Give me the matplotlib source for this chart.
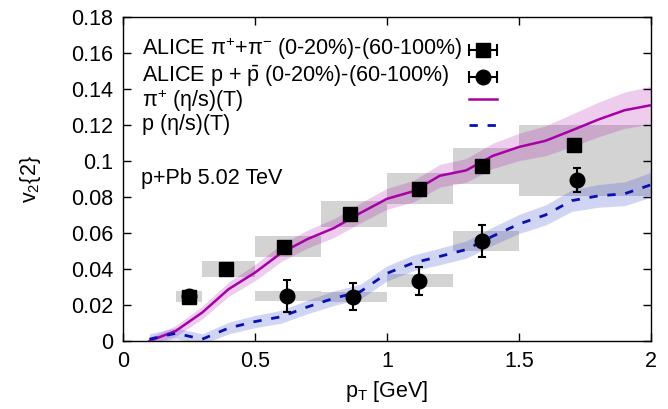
"""v2{2} of identified hadrons in p+Pb, ALICE data vs (eta/s)(T) hydro."""

import matplotlib
matplotlib.use("Agg")
import matplotlib.pyplot as plt
from matplotlib.patches import Rectangle
from matplotlib.ticker import FuncFormatter, MultipleLocator

plt.rcParams["font.family"] = ["Liberation Sans", "DejaVu Sans"]
plt.rcParams["mathtext.fontset"] = "custom"
plt.rcParams["mathtext.rm"] = "Liberation Sans"
plt.rcParams["mathtext.it"] = "Liberation Sans"
plt.rcParams["mathtext.bf"] = "Liberation Sans"
plt.rcParams["mathtext.default"] = "regular"

# ALICE pions, (0-20%)-(60-100%)
pi_pt = [0.25, 0.39, 0.61, 0.86, 1.12, 1.36, 1.71]
pi_v2 = [0.0245, 0.0400, 0.0525, 0.0705, 0.0845, 0.0970, 0.1090]
pi_stat = [0.0010, 0.0010, 0.0010, 0.0010, 0.0015, 0.0030, 0.0025]
pi_bin_lo = [0.20, 0.30, 0.50, 0.75, 1.00, 1.25, 1.50]
pi_bin_hi = [0.30, 0.50, 0.75, 1.00, 1.25, 1.50, 2.00]
pi_sys = [0.0028, 0.0042, 0.0057, 0.0072, 0.0086, 0.0100, 0.0111]

# ALICE protons, (0-20%)-(60-100%)
p_pt = [0.25, 0.62, 0.87, 1.12, 1.36, 1.72]
p_v2 = [0.0250, 0.0250, 0.0246, 0.0335, 0.0556, 0.0894]
p_stat = [0.0020, 0.0089, 0.0075, 0.0077, 0.0090, 0.0067]
p_bin_lo = [0.20, 0.50, 0.75, 1.00, 1.25, 1.50]
p_bin_hi = [0.30, 0.75, 1.00, 1.25, 1.50, 2.00]
p_sys = [0.0028, 0.0028, 0.0028, 0.0035, 0.0054, 0.0088]

# hydro, (eta/s)(T)
th_pt = [0.10, 0.20, 0.30, 0.40, 0.50, 0.60, 0.70, 0.80, 0.90, 1.00,
         1.10, 1.20, 1.30, 1.40, 1.50, 1.60, 1.70, 1.80, 1.90, 2.00]
th_pi = [0.0000, 0.0056, 0.0158, 0.0288, 0.0380, 0.0490, 0.0567, 0.0628,
         0.0712, 0.0790, 0.0832, 0.0918, 0.0948, 0.1028, 0.1078, 0.1112,
         0.1170, 0.1230, 0.1282, 0.1310]
th_pi_err = [0.0020, 0.0030, 0.0035, 0.0040, 0.0045, 0.0048, 0.0050, 0.0052,
             0.0055, 0.0058, 0.0060, 0.0063, 0.0066, 0.0070, 0.0076, 0.0083,
             0.0090, 0.0096, 0.0101, 0.0105]
th_p = [0.0010, 0.0043, 0.0010, 0.0072, 0.0108, 0.0135, 0.0190, 0.0238,
        0.0275, 0.0376, 0.0434, 0.0470, 0.0508, 0.0582, 0.0650, 0.0700,
        0.0780, 0.0806, 0.0818, 0.0868]
th_p_err = [0.0030, 0.0030, 0.0030, 0.0032, 0.0034, 0.0036, 0.0038, 0.0040,
            0.0041, 0.0042, 0.0044, 0.0046, 0.0048, 0.0050, 0.0053, 0.0056,
            0.0060, 0.0063, 0.0066, 0.0069]

MAGENTA = "#a800a8"
BLUE = "#0a10b0"
GRAY = "#d3d3d3"
FS = 15.5

fig = plt.figure(figsize=(6.68, 4.09), dpi=100)
ax = fig.add_axes([123 / 668, 68 / 409, 528 / 668, 324 / 409])

# systematic boxes
for lo, hi, v, s in zip(pi_bin_lo, pi_bin_hi, pi_v2, pi_sys):
    ax.add_patch(Rectangle((lo, v - s), hi - lo, 2 * s, facecolor=GRAY,
                           edgecolor="none", zorder=1))
for lo, hi, v, s in zip(p_bin_lo, p_bin_hi, p_v2, p_sys):
    ax.add_patch(Rectangle((lo, v - s), hi - lo, 2 * s, facecolor=GRAY,
                           edgecolor="none", zorder=1))

# theory bands + lines
ax.fill_between(th_pt, [a - b for a, b in zip(th_pi, th_pi_err)],
                [a + b for a, b in zip(th_pi, th_pi_err)],
                color=MAGENTA, alpha=0.2, linewidth=0, zorder=2)
ax.fill_between(th_pt, [a - b for a, b in zip(th_p, th_p_err)],
                [a + b for a, b in zip(th_p, th_p_err)],
                color="#3040d0", alpha=0.22, linewidth=0, zorder=2)
ax.plot(th_pt, th_pi, color=MAGENTA, lw=1.8, zorder=3)
ax.plot(th_pt, th_p, color=BLUE, lw=2.0, ls=(0, (3, 3.5)), zorder=3)

# data
ax.errorbar(pi_pt, pi_v2, yerr=pi_stat, fmt="s", color="black", ms=10.5,
            capsize=3, elinewidth=1.5, capthick=1.5, zorder=4)
ax.errorbar(p_pt, p_v2, yerr=p_stat, fmt="o", color="black", ms=10.5,
            capsize=3, elinewidth=1.5, capthick=1.5, zorder=4)

# gnuplot-style key: text left, sample right
labels = [r"ALICE $\pi^{+}$+$\pi^{-}$ (0-20%)-(60-100%)",
          r"ALICE p + $\bar{p}$ (0-20%)-(60-100%)",
          r"$\pi^{+}$ (η/s)(T)",
          r"p (η/s)(T)"]
text_y = [0.883, 0.800, 0.722, 0.651]
handle_y = [0.898, 0.815, 0.747, 0.668]
for lab, ty in zip(labels, text_y):
    ax.text(0.036, ty, lab, transform=ax.transAxes, fontsize=FS,
            va="baseline", ha="left", zorder=5)
hx0, hx1, hxc = 0.655, 0.708, 0.682
for y, mk in zip(handle_y[:2], ["s", "o"]):
    ax.plot([hx0, hx1], [y, y], color="black", lw=1.5,
            transform=ax.transAxes, zorder=5)
    ax.plot([hx0, hx1], [y, y], ls="none", marker="|", ms=8, mew=1.5,
            color="black", transform=ax.transAxes, zorder=5)
    ax.plot([hxc], [y], ls="none", marker=mk, ms=10.5, color="black",
            transform=ax.transAxes, zorder=5)
ax.plot([hx0, hx1], [handle_y[2]] * 2, color=MAGENTA, lw=1.8,
        transform=ax.transAxes, zorder=5)
ax.plot([hx0, hx1], [handle_y[3]] * 2, color=BLUE, lw=2.0,
        ls=(0, (3, 3.5)), transform=ax.transAxes, zorder=5)

ax.text(0.035, 0.503, "p+Pb 5.02 TeV", transform=ax.transAxes, fontsize=FS,
        va="center", ha="left")

ax.set_xlim(0, 2)
ax.set_ylim(0, 0.18)
ax.xaxis.set_major_locator(MultipleLocator(0.5))
ax.yaxis.set_major_locator(MultipleLocator(0.02))
fmt = FuncFormatter(lambda v, pos: "%g" % round(v, 4))
ax.xaxis.set_major_formatter(fmt)
ax.yaxis.set_major_formatter(fmt)
ax.tick_params(direction="in", length=6, width=1, top=True, right=True,
               labelsize=FS, pad=7)
for sp in ax.spines.values():
    sp.set_linewidth(1)

ax.set_xlabel(r"p$_{\rm T}$ [GeV]", fontsize=FS, labelpad=5)
ax.set_ylabel(r"v$_2${2}", fontsize=FS, labelpad=20)

fig.savefig("out.png", dpi=100)
